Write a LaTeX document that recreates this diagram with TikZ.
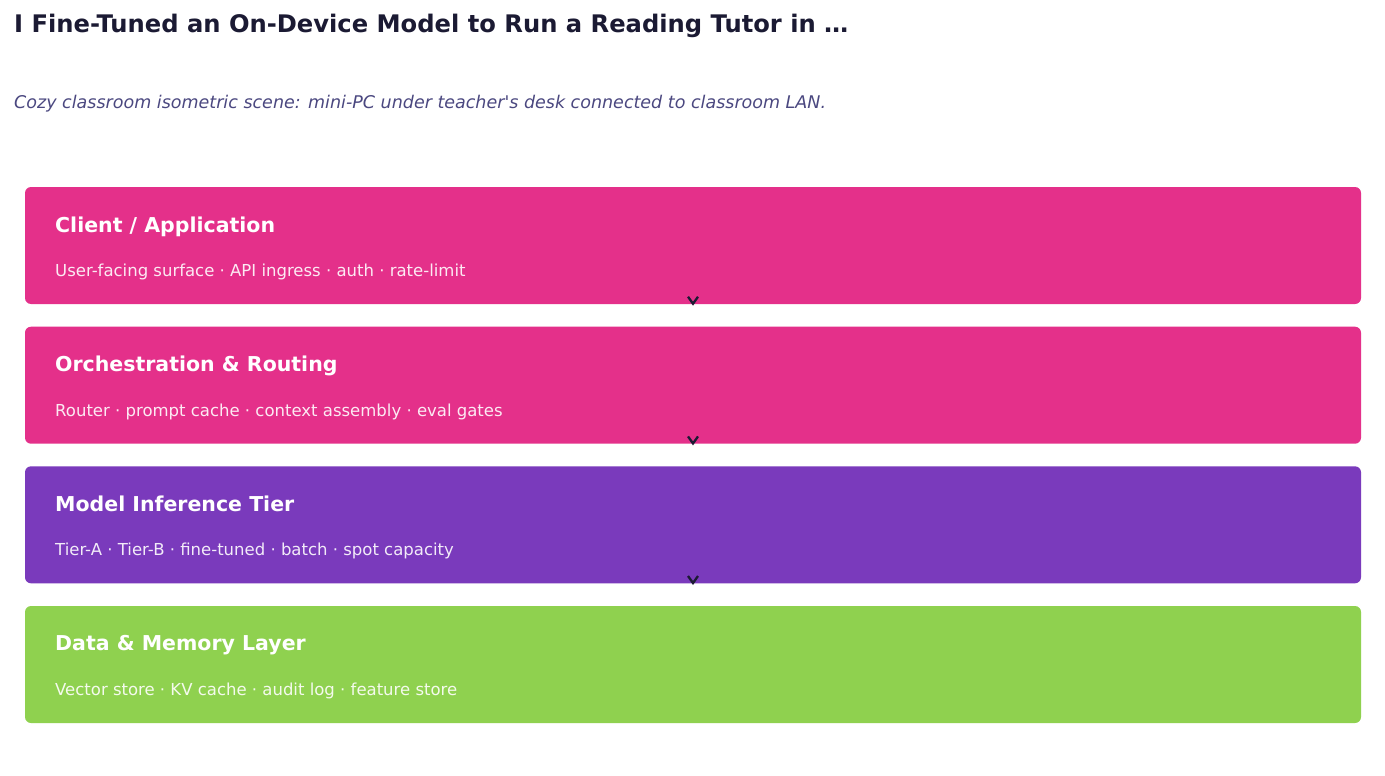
\documentclass[tikz,border=0pt]{standalone}
\usepackage{fontspec}
\setmainfont{DejaVu Sans}
\usetikzlibrary{arrows.meta}
\definecolor{navy}{HTML}{1B1A33}
\definecolor{subcol}{HTML}{4B4880}
\definecolor{pinkbox}{HTML}{E4308A}
\definecolor{purplebox}{HTML}{7A3ABC}
\definecolor{greenbox}{HTML}{8FD14F}
\begin{document}
\begin{tikzpicture}[x=1pt,y=-1pt,
  layer/.style={draw=none, rounded corners=6pt, minimum width=1336pt, minimum height=117pt, inner sep=0pt},
  ltitle/.style={anchor=base west, inner sep=0pt, text=white, font=\fontsize{20.5}{24}\selectfont\bfseries},
  lsub/.style={anchor=base west, inner sep=0pt, text=white!92!black, font=\fontsize{16.5}{19}\selectfont},
  flow/.style={-{Straight Barb[length=7pt,width=10pt,line width=2.3pt]}, line width=2.3pt, draw=navy}]
\useasboundingbox (0,0) rectangle (1385,776);
\fill[white] (0,0) rectangle (1385,776);
\node[anchor=base west, inner sep=0pt, text=navy, font=\fontsize{24.2}{28}\selectfont\bfseries] (title) at (14,33) {I Fine-Tuned an On-Device Model to Run a Reading Tutor in …};
\node[anchor=base west, inner sep=0pt, text=subcol, font=\fontsize{17.5}{20}\selectfont\itshape] (subtitle) at (14,108) {Cozy classroom isometric scene: mini-PC under teacher\textquotesingle s desk connected to classroom LAN.};

\node[layer, fill=pinkbox] (b1) at (693,245.5) {};
\node[layer, fill=pinkbox] (b2) at (693,385.2) {};
\node[layer, fill=purplebox] (b3) at (693,524.8) {};
\node[layer, fill=greenbox] (b4) at (693,664.5) {};

\node[ltitle] (t1) at (55,232) {Client / Application};
\node[lsub, text=white!90!pinkbox] (s1) at (55,276) {User-facing surface · API ingress · auth · rate-limit};
\node[ltitle] (t2) at (55,371) {Orchestration \& Routing};
\node[lsub, text=white!90!pinkbox] (s2) at (55,416) {Router · prompt cache · context assembly · eval gates};
\node[ltitle] (t3) at (55,511) {Model Inference Tier};
\node[lsub, text=white!90!purplebox] (s3) at (55,555) {Tier-A · Tier-B · fine-tuned · batch · spot capacity};
\node[ltitle] (t4) at (55,650) {Data \& Memory Layer};
\node[lsub, text=white!90!greenbox] (s4) at (55,695) {Vector store · KV cache · audit log · feature store};

\draw[flow] ([yshift=0pt]b1.south) -- ([yshift=-1.5pt]b1.south);
\draw[flow] ([yshift=0pt]b2.south) -- ([yshift=-1.5pt]b2.south);
\draw[flow] ([yshift=0pt]b3.south) -- ([yshift=-1.5pt]b3.south);
\end{tikzpicture}
\end{document}
